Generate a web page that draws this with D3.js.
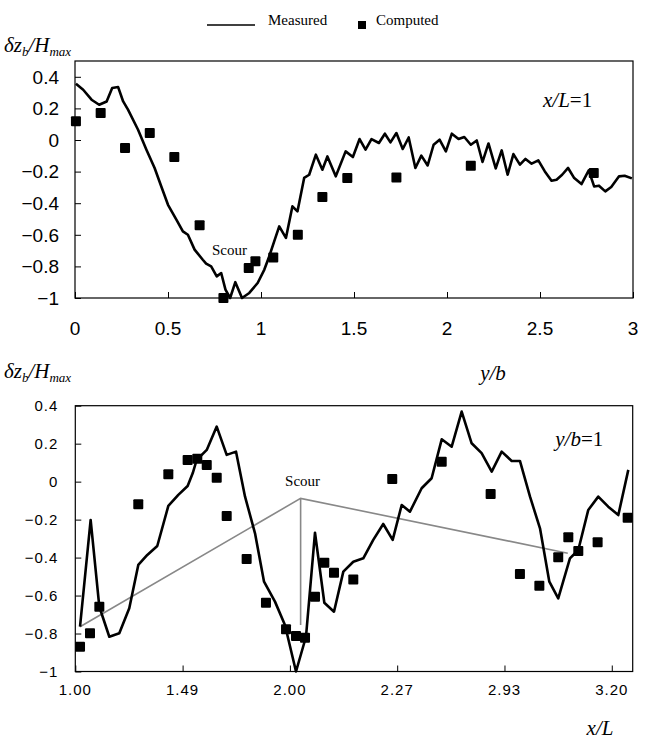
<!DOCTYPE html>
<html>
<head>
<meta charset="utf-8">
<script src="https://cdn.jsdelivr.net/npm/d3@7"></script>
<style>
  body { margin: 0; background: #fff; }
  .tick-top { font-family: "Liberation Sans Narrow", "Liberation Sans", Arial, sans-serif; font-size: 19px; }
  .tick-bot { font-family: "Liberation Sans", Arial, sans-serif; font-size: 15px; letter-spacing: 1px; }
  .serif { font-family: "Liberation Serif", "Times New Roman", serif; }
</style>
</head>
<body>
<div id="chart"></div>
<script>
// ---- top panel (x/L = 1), horizontal axis y/b ----
var topMeasuredX = [0.005, 0.044, 0.089, 0.13, 0.17, 0.20, 0.232, 0.259, 0.285, 0.339, 0.384, 0.428, 0.464, 0.5, 0.545, 0.58, 0.607, 0.643, 0.687, 0.705, 0.732, 0.762, 0.786, 0.809, 0.834, 0.862, 0.898, 0.937, 0.982, 1.018, 1.044, 1.071, 1.098, 1.134, 1.169, 1.196, 1.232, 1.259, 1.295, 1.33, 1.357, 1.402, 1.455, 1.494, 1.53, 1.562, 1.594, 1.634, 1.666, 1.696, 1.728, 1.762, 1.794, 1.83, 1.862, 1.896, 1.928, 1.96, 1.994, 2.026, 2.062, 2.093, 2.128, 2.16, 2.191, 2.223, 2.262, 2.294, 2.326, 2.357, 2.392, 2.422, 2.455, 2.491, 2.526, 2.562, 2.589, 2.619, 2.651, 2.684, 2.723, 2.762, 2.791, 2.817, 2.851, 2.883, 2.925, 2.955, 2.994];
var topMeasuredY = [0.356, 0.318, 0.255, 0.223, 0.244, 0.329, 0.335, 0.244, 0.192, 0.065, -0.061, -0.177, -0.294, -0.41, -0.504, -0.578, -0.6, -0.694, -0.758, -0.783, -0.8, -0.863, -0.842, -0.947, -1.0, -0.9, -1.0, -0.968, -0.905, -0.82, -0.737, -0.642, -0.547, -0.62, -0.42, -0.452, -0.24, -0.22, -0.093, -0.188, -0.104, -0.23, -0.072, -0.108, 0.006, -0.061, 0.006, -0.019, 0.04, -0.015, 0.044, -0.057, 0.016, -0.177, -0.099, -0.161, -0.03, 0.002, -0.072, 0.04, 0.006, 0.019, -0.03, -0.003, -0.139, -0.022, -0.18, -0.066, -0.22, -0.089, -0.156, -0.12, -0.15, -0.129, -0.199, -0.258, -0.251, -0.22, -0.177, -0.241, -0.279, -0.192, -0.294, -0.289, -0.325, -0.297, -0.23, -0.226, -0.243];
var topComputedX = [0.005, 0.138, 0.269, 0.402, 0.534, 0.67, 0.798, 0.934, 0.97, 1.066, 1.198, 1.33, 1.464, 1.728, 2.128, 2.789];
var topComputedY = [0.118, 0.171, -0.051, 0.044, -0.108, -0.54, -1.0, -0.81, -0.768, -0.743, -0.6, -0.361, -0.24, -0.237, -0.163, -0.209];
var topXTicks = [0, 0.5, 1, 1.5, 2, 2.5, 3];
var topYTicks = [-1, -0.8, -0.6, -0.4, -0.2, 0, 0.2, 0.4];

// ---- bottom panel (y/b = 1), horizontal axis x/L (category positions) ----
var botXLabels = ["1.00", "1.49", "2.00", "2.27", "2.93", "3.20"];
var botMeasuredX = [0.044, 0.143, 0.224, 0.317, 0.41, 0.503, 0.587, 0.671, 0.764, 0.867, 0.96, 1.047, 1.094, 1.131, 1.225, 1.318, 1.411, 1.498, 1.582, 1.675, 1.759, 1.861, 1.954, 2.057, 2.15, 2.234, 2.321, 2.411, 2.498, 2.591, 2.684, 2.777, 2.87, 2.958, 3.042, 3.119, 3.228, 3.321, 3.415, 3.508, 3.601, 3.694, 3.787, 3.881, 3.974, 4.067, 4.144, 4.238, 4.331, 4.418, 4.501, 4.61, 4.688, 4.781, 4.874, 4.967, 5.061, 5.154];
var botMeasuredY = [-0.764, -0.202, -0.659, -0.817, -0.799, -0.667, -0.439, -0.386, -0.339, -0.128, -0.07, -0.023, 0.044, 0.114, 0.167, 0.29, 0.141, 0.158, -0.079, -0.272, -0.527, -0.632, -0.755, -1.0, -0.817, -0.269, -0.638, -0.685, -0.474, -0.422, -0.404, -0.307, -0.223, -0.307, -0.123, -0.158, -0.035, 0.018, 0.223, 0.184, 0.369, 0.202, 0.15, 0.053, 0.158, 0.109, 0.109, -0.079, -0.246, -0.527, -0.615, -0.404, -0.36, -0.149, -0.079, -0.132, -0.176, 0.062];
var botComputedX = [0.044, 0.137, 0.224, 0.587, 0.867, 1.047, 1.137, 1.225, 1.318, 1.411, 1.597, 1.777, 1.964, 2.057, 2.141, 2.234, 2.321, 2.411, 2.591, 2.954, 3.415, 3.871, 4.144, 4.325, 4.501, 4.595, 4.688, 4.868, 5.148];
var botComputedY = [-0.87, -0.799, -0.659, -0.119, 0.039, 0.114, 0.12, 0.088, 0.021, -0.181, -0.407, -0.638, -0.778, -0.813, -0.822, -0.606, -0.427, -0.48, -0.515, 0.014, 0.105, -0.065, -0.486, -0.548, -0.398, -0.293, -0.365, -0.319, -0.19];
var botYTicks = [-1, -0.8, -0.6, -0.4, -0.2, 0, 0.2, 0.4];
// grey "Scour" guide lines
var scourX = [0.044, 2.10, 4.59];
var scourY = [-0.764, -0.088, -0.377];
var scourDropY = -0.755;

var W = 648, H = 745;
var svg = d3.select("#chart").append("svg")
  .attr("width", W).attr("height", H);

function fmt(d) {
  return String(d).replace("-", "\u2212");
}

// y-axis title δz_b/H_max
function yTitle(x, y) {
  var t = svg.append("text").attr("class", "serif")
    .attr("x", x).attr("y", y)
    .style("font-size", "21px").style("font-style", "italic");
  t.append("tspan").text("\u03b4z");
  t.append("tspan").attr("dy", 4).style("font-size", "13px").text("b");
  t.append("tspan").attr("dy", -4).text("/H");
  t.append("tspan").attr("dy", 4).style("font-size", "13px").text("max");
}

function drawFrame(g, w, h) {
  g.append("rect")
    .attr("x", 0).attr("y", 0).attr("width", w).attr("height", h)
    .attr("fill", "none").attr("stroke", "#000").attr("stroke-width", 1.2);
}

function drawSquares(g, xs, ys, x, y, s) {
  g.selectAll(".sq").data(xs.map(function(d, i) { return [d, ys[i]]; }))
    .enter().append("rect")
      .attr("x", function(d) { return x(d[0]) - s / 2; })
      .attr("y", function(d) { return y(d[1]) - s / 2; })
      .attr("width", s).attr("height", s)
      .attr("rx", 1)
      .attr("fill", "#000");
}

// ================= TOP PANEL =================
var m1 = {left: 75, top: 61}, w1 = 558, h1 = 237;
var g1 = svg.append("g").attr("transform", "translate(" + m1.left + "," + m1.top + ")");

var x1 = d3.scaleLinear().domain([0, 3]).range([0, w1]);
var y1 = d3.scaleLinear().domain([-1, 0.5]).range([h1, 0]);

drawFrame(g1, w1, h1);

g1.append("g")
  .call(d3.axisRight(y1).tickValues(topYTicks).tickSize(6).tickFormat(""))
  .call(function(a) { a.select(".domain").remove(); });
g1.append("g")
  .attr("transform", "translate(0," + h1 + ")")
  .call(d3.axisTop(x1).tickValues(topXTicks).tickSize(6).tickFormat(""))
  .call(function(a) { a.select(".domain").remove(); });

g1.selectAll(".ylab").data(topYTicks).enter().append("text")
  .attr("class", "tick-top")
  .attr("x", -16).attr("y", function(d) { return y1(d); })
  .attr("dy", "0.36em").attr("text-anchor", "end")
  .text(fmt);
g1.selectAll(".xlab").data(topXTicks).enter().append("text")
  .attr("class", "tick-top")
  .attr("x", function(d) { return x1(d); }).attr("y", h1 + 37)
  .attr("text-anchor", "middle")
  .text(fmt);

var line1 = d3.line()
  .x(function(d) { return x1(d[0]); })
  .y(function(d) { return y1(d[1]); });
g1.append("path")
  .datum(topMeasuredX.map(function(d, i) { return [d, topMeasuredY[i]]; }))
  .attr("d", line1)
  .attr("fill", "none").attr("stroke", "#000").attr("stroke-width", 2.6)
  .attr("stroke-linejoin", "round");

drawSquares(g1, topComputedX, topComputedY, x1, y1, 10);

g1.append("text").attr("class", "serif")
  .attr("x", x1(0.83)).attr("y", y1(-0.73))
  .attr("text-anchor", "middle").style("font-size", "15px")
  .text("Scour");

var lab1 = g1.append("text").attr("class", "serif")
  .attr("x", 468).attr("y", 46).style("font-size", "21px");
lab1.append("tspan").style("font-style", "italic").text("x/L");
lab1.append("tspan").text("=1");

yTitle(4, 52);
svg.append("text").attr("class", "serif")
  .attr("x", 493).attr("y", 380).attr("text-anchor", "middle")
  .style("font-size", "21px").style("font-style", "italic")
  .text("y/b");

// legend
svg.append("line")
  .attr("x1", 207).attr("x2", 255).attr("y1", 25).attr("y2", 25)
  .attr("stroke", "#000").attr("stroke-width", 1.6);
svg.append("text").attr("class", "serif")
  .attr("x", 268).attr("y", 25).style("font-size", "15px")
  .text("Measured");
svg.append("rect")
  .attr("x", 358).attr("y", 21).attr("width", 8).attr("height", 8)
  .attr("fill", "#000");
svg.append("text").attr("class", "serif")
  .attr("x", 376).attr("y", 25).style("font-size", "15px")
  .text("Computed");

// ================= BOTTOM PANEL =================
var m2 = {left: 75.3, top: 405.7}, w2 = 557.4, h2 = 265.8;
var g2 = svg.append("g").attr("transform", "translate(" + m2.left + "," + m2.top + ")");

var x2 = d3.scaleLinear().domain([0, 5.195]).range([0, w2]);
var y2 = d3.scaleLinear().domain([-1, 0.4]).range([h2, 0]);
var botXTicks = botXLabels.map(function(d, i) { return i; });

drawFrame(g2, w2, h2);

g2.append("g")
  .call(d3.axisRight(y2).tickValues(botYTicks).tickSize(6).tickFormat(""))
  .call(function(a) { a.select(".domain").remove(); });
g2.append("g")
  .attr("transform", "translate(0," + h2 + ")")
  .call(d3.axisTop(x2).tickValues(botXTicks).tickSize(6).tickFormat(""))
  .call(function(a) { a.select(".domain").remove(); });

g2.selectAll(".ylab").data(botYTicks).enter().append("text")
  .attr("class", "tick-bot")
  .attr("x", -17).attr("y", function(d) { return y2(d); })
  .attr("dy", "0.36em").attr("text-anchor", "end")
  .text(fmt);
g2.selectAll(".xlab").data(botXTicks).enter().append("text")
  .attr("class", "tick-bot")
  .attr("x", function(d) { return x2(d); }).attr("y", h2 + 24)
  .attr("text-anchor", "middle")
  .text(function(d) { return botXLabels[d]; });

var line2 = d3.line()
  .x(function(d) { return x2(d[0]); })
  .y(function(d) { return y2(d[1]); });

// grey scour guide
g2.append("path")
  .datum(scourX.map(function(d, i) { return [d, scourY[i]]; }))
  .attr("d", line2)
  .attr("fill", "none").attr("stroke", "#888").attr("stroke-width", 1.6);
g2.append("line")
  .attr("x1", x2(scourX[1])).attr("x2", x2(scourX[1]))
  .attr("y1", y2(scourY[1])).attr("y2", y2(scourDropY))
  .attr("stroke", "#888").attr("stroke-width", 1.6);

g2.append("path")
  .datum(botMeasuredX.map(function(d, i) { return [d, botMeasuredY[i]]; }))
  .attr("d", line2)
  .attr("fill", "none").attr("stroke", "#000").attr("stroke-width", 2.6)
  .attr("stroke-linejoin", "round");

drawSquares(g2, botComputedX, botComputedY, x2, y2, 10);

g2.append("text").attr("class", "serif")
  .attr("x", x2(scourX[1]) + 2).attr("y", y2(scourY[1]) - 12)
  .attr("text-anchor", "middle").style("font-size", "15px")
  .text("Scour");

var lab2 = g2.append("text").attr("class", "serif")
  .attr("x", 480).attr("y", 40).style("font-size", "21px");
lab2.append("tspan").style("font-style", "italic").text("y/b");
lab2.append("tspan").text("=1");

yTitle(4, 378);
svg.append("text").attr("class", "serif")
  .attr("x", 600).attr("y", 735).attr("text-anchor", "middle")
  .style("font-size", "21px").style("font-style", "italic")
  .text("x/L");
</script>
</body>
</html>
